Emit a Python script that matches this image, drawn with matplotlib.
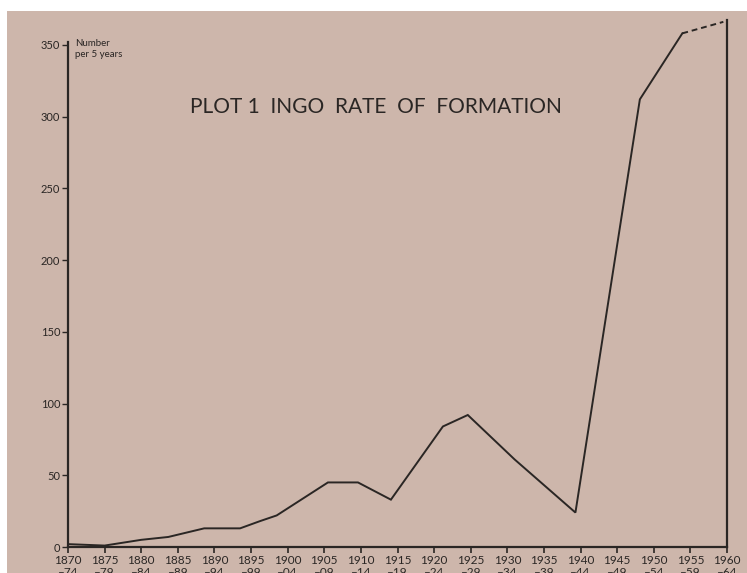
import matplotlib.pyplot as plt
from matplotlib.patches import Rectangle

# Данные
years = [1870, 1875, 1880, 1883.7, 1888.6, 1893.5, 1896.2, 1898.5,
         1905.5, 1909.6, 1914.1, 1921.2, 1924.6, 1931.0, 1939.3, 1948.1, 1953.9]
counts = [2, 1, 5, 7, 13, 13, 18, 22, 45, 45, 33, 84, 92, 61, 24, 312, 358]
# пунктирное продолжение
est_years = [1953.9, 1959.5]
est_counts = [358, 366]

tick_years = list(range(1870, 1965, 5))
tick_labels = [f"{y}\n–{(y + 4) % 100:02d}" for y in tick_years]
y_ticks = [0, 50, 100, 150, 200, 250, 300, 350]

paper = '#cdb6ab'
ink = '#2a2624'

plt.rcParams['font.family'] = ['Lato', 'DejaVu Sans']

fig = plt.figure(figsize=(7.47, 5.73), dpi=100, facecolor='white')
fig.add_artist(Rectangle((7 / 747, 0), 1, (573 - 11) / 573,
                         transform=fig.transFigure, facecolor=paper,
                         edgecolor='none', zorder=-10))

ax = fig.add_axes([68 / 747, 26 / 573, 659 / 747, 528 / 573])
ax.set_facecolor('none')

ax.plot(years, counts, color=ink, linewidth=1.4, solid_joinstyle='miter')
ax.plot(est_years, est_counts, color=ink, linewidth=1.4, linestyle=(0, (3, 2)))

ax.set_xlim(1870, 1960)
ax.set_ylim(0, 368)

ax.spines['top'].set_visible(False)
ax.spines['left'].set_bounds(0, 352)
ax.spines['right'].set_bounds(0, 367)
for side in ['left', 'right', 'bottom']:
    ax.spines[side].set_color(ink)
    ax.spines[side].set_linewidth(1.6)

ax.set_xticks(tick_years)
ax.set_xticklabels(tick_labels, fontsize=8.5, color=ink, linespacing=1.1)
ax.set_yticks(y_ticks)
ax.set_yticklabels([str(v) for v in y_ticks], fontsize=8, color=ink)
ax.tick_params(axis='x', direction='out', length=4, width=1.2, color=ink, pad=2)
ax.tick_params(axis='y', direction='out', length=4, width=1.0, color=ink, pad=1.5)

ax.text(1871.0, 354, 'Number\nper 5 years', fontsize=7, color=ink,
        va='top', ha='left', linespacing=1.25)
ax.text(1886.6, 307, 'PLOT 1  INGO  RATE  OF  FORMATION', fontsize=15,
        color=ink, va='center', ha='left')

fig.savefig('out.png', dpi=100, facecolor='white')
